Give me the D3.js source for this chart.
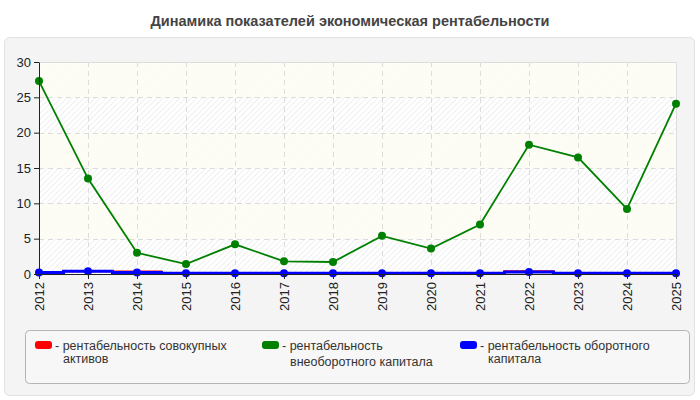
<!DOCTYPE html>
<html>
<head>
<meta charset="utf-8">
<script src="https://cdn.jsdelivr.net/npm/d3@7"></script>
<style>
  body { margin: 0; background: #fff; }
  svg { display: block; font-family: "Liberation Sans Narrow", "Liberation Sans", Arial, sans-serif; }
</style>
</head>
<body>
<div class="canvas"></div>
<script>
// data
const years = ['2012', '2013', '2014', '2015', '2016', '2017', '2018', '2019', '2020', '2021', '2022', '2023', '2024', '2025']
const assets = [0.2, 0.4, 0.35, 0.1, 0.1, 0.1, 0.1, 0.1, 0.1, 0.1, 0.4, 0.1, 0.1, 0.1]
const fixedCapital = [27.3, 13.5, 3.0, 1.4, 4.2, 1.8, 1.7, 5.4, 3.6, 7.0, 18.3, 16.5, 9.2, 24.1]
const workingCapital = [0.2, 0.4, 0.2, 0.1, 0.1, 0.1, 0.1, 0.1, 0.1, 0.1, 0.3, 0.1, 0.1, 0.1]
const yTicks = [0, 5, 10, 15, 20, 25, 30]
const seriesNames = ['рентабельность совокупных|активов', 'рентабельность|внеоборотного капитала', 'рентабельность оборотного|капитала']
const seriesColors = ['#ff0000', '#008000', '#0000ff']

const dims = { width: 700, height: 400 }
const plot = { left: 39, right: 676, top: 62, bottom: 274 }

const svg = d3.select('.canvas')
  .append('svg')
  .attr('width', dims.width)
  .attr('height', dims.height)

// hatch pattern for plot background
const defs = svg.append('defs')
const pat = defs.append('pattern')
  .attr('id', 'hatch')
  .attr('patternUnits', 'userSpaceOnUse')
  .attr('width', 4).attr('height', 4)
  .attr('patternTransform', 'rotate(45)')
pat.append('rect').attr('width', 4).attr('height', 4).attr('fill', '#fff')
pat.append('rect').attr('width', 1).attr('height', 4).attr('fill', '#efefef')

// panel
svg.append('rect')
  .attr('x', 4.5).attr('y', 37.5)
  .attr('width', 690).attr('height', 358)
  .attr('rx', 5)
  .attr('fill', '#f4f4f4')
  .attr('stroke', '#e2e2e2')

svg.append('text')
  .attr('x', 350).attr('y', 26)
  .attr('text-anchor', 'middle')
  .attr('font-family', 'Liberation Sans, Arial, sans-serif')
  .attr('font-weight', 'bold')
  .attr('font-size', 14.5)
  .attr('fill', '#444')
  .text('Динамика показателей экономическая рентабельности')

const x = d3.scalePoint()
  .domain(years)
  .range([plot.left, plot.right])

const y = d3.scaleLinear()
  .domain([0, 30])
  .range([plot.bottom, plot.top])

const graph = svg.append('g')

// background bands
graph.append('rect')
  .attr('x', plot.left).attr('y', plot.top)
  .attr('width', plot.right - plot.left).attr('height', plot.bottom - plot.top)
  .attr('fill', 'url(#hatch)')

graph.selectAll('rect.band')
  .data(d3.pairs(yTicks).filter((d, i) => i % 2 === 1))
  .enter().append('rect')
    .attr('class', 'band')
    .attr('x', plot.left)
    .attr('y', d => y(d[1]))
    .attr('width', plot.right - plot.left)
    .attr('height', d => y(d[0]) - y(d[1]))
    .attr('fill', '#fdfdf4')
    .attr('opacity', 0.9)

// grid
graph.selectAll('line.hgrid')
  .data(yTicks.slice(1, -1))
  .enter().append('line')
    .attr('x1', plot.left).attr('x2', plot.right)
    .attr('y1', d => Math.round(y(d)) + 0.5).attr('y2', d => Math.round(y(d)) + 0.5)
    .attr('stroke', '#dcdcdc')
    .attr('stroke-dasharray', '5,4')

graph.selectAll('line.vgrid')
  .data(years.slice(1, -1))
  .enter().append('line')
    .attr('x1', d => Math.round(x(d)) + 0.5).attr('x2', d => Math.round(x(d)) + 0.5)
    .attr('y1', plot.top).attr('y2', plot.bottom)
    .attr('stroke', '#dcdcdc')
    .attr('stroke-dasharray', '5,4')

// top and right border
graph.append('path')
  .attr('d', `M${plot.left},${plot.top + 0.5}H${plot.right + 0.5}V${plot.bottom}`)
  .attr('fill', 'none')
  .attr('stroke', '#dcdcdc')

// axes
const yAxis = d3.axisLeft(y).tickValues(yTicks).tickSize(5).tickSizeOuter(0)
const xAxis = d3.axisBottom(x).tickSize(5).tickSizeOuter(0)

const yG = svg.append('g')
  .attr('transform', `translate(${plot.left}, 0)`)
  .call(yAxis)
const xG = svg.append('g')
  .attr('transform', `translate(0, ${plot.bottom})`)
  .call(xAxis)

;[yG, xG].forEach(g => {
  g.select('.domain').attr('stroke', '#222')
  g.selectAll('.tick line').attr('stroke', '#222')
  g.selectAll('text')
    .attr('font-family', 'Liberation Sans, Arial, sans-serif')
    .attr('font-size', 13)
    .attr('fill', '#222')
})
yG.selectAll('text').attr('x', -8)
xG.selectAll('text')
  .attr('transform', 'rotate(-90)')
  .attr('text-anchor', 'end')
  .attr('x', -8).attr('y', 0)
  .attr('dy', '0.35em')

// lines
const stepLine = d3.line()
  .x((d, i) => x(years[i]))
  .y(d => y(d))
  .curve(d3.curveStep)

graph.append('path')
  .datum(assets)
  .attr('d', stepLine)
  .attr('fill', 'none')
  .attr('stroke', seriesColors[0])
  .attr('stroke-width', 2)

graph.append('path')
  .datum(workingCapital)
  .attr('d', stepLine)
  .attr('fill', 'none')
  .attr('stroke', seriesColors[2])
  .attr('stroke-width', 3)

const line = d3.line()
  .x((d, i) => x(years[i]))
  .y(d => y(d))

graph.append('path')
  .datum(fixedCapital)
  .attr('d', line)
  .attr('fill', 'none')
  .attr('stroke', seriesColors[1])
  .attr('stroke-width', 1.8)

graph.selectAll('circle.fixed')
  .data(fixedCapital)
  .enter().append('circle')
    .attr('cx', (d, i) => x(years[i]))
    .attr('cy', d => y(d))
    .attr('r', 4)
    .attr('fill', seriesColors[1])

graph.selectAll('circle.work')
  .data(workingCapital)
  .enter().append('circle')
    .attr('cx', (d, i) => x(years[i]))
    .attr('cy', d => y(d))
    .attr('r', 4)
    .attr('fill', seriesColors[2])

// legend
const legendG = svg.append('g')
legendG.append('rect')
  .attr('x', 25.5).attr('y', 330.5)
  .attr('width', 664).attr('height', 53)
  .attr('rx', 4)
  .attr('fill', '#f7f7f7')
  .attr('stroke', '#b4b4b4')

const legendX = [35, 262, 460]
const items = legendG.selectAll('g.item')
  .data(seriesNames)
  .enter().append('g')
    .attr('transform', (d, i) => `translate(${legendX[i]}, 341)`)

items.append('rect')
  .attr('width', 17).attr('height', 8)
  .attr('rx', 3)
  .attr('fill', (d, i) => seriesColors[i])

items.append('text')
  .attr('x', 20).attr('y', 9)
  .attr('font-size', 12.5)
  .attr('fill', '#333')
  .text(d => '- ' + d.split('|')[0])

items.append('text')
  .attr('x', 28).attr('y', (d, i) => i === 1 ? 25 : 22)
  .attr('font-size', 12.5)
  .attr('fill', '#333')
  .text(d => d.split('|')[1])
</script>
</body>
</html>
